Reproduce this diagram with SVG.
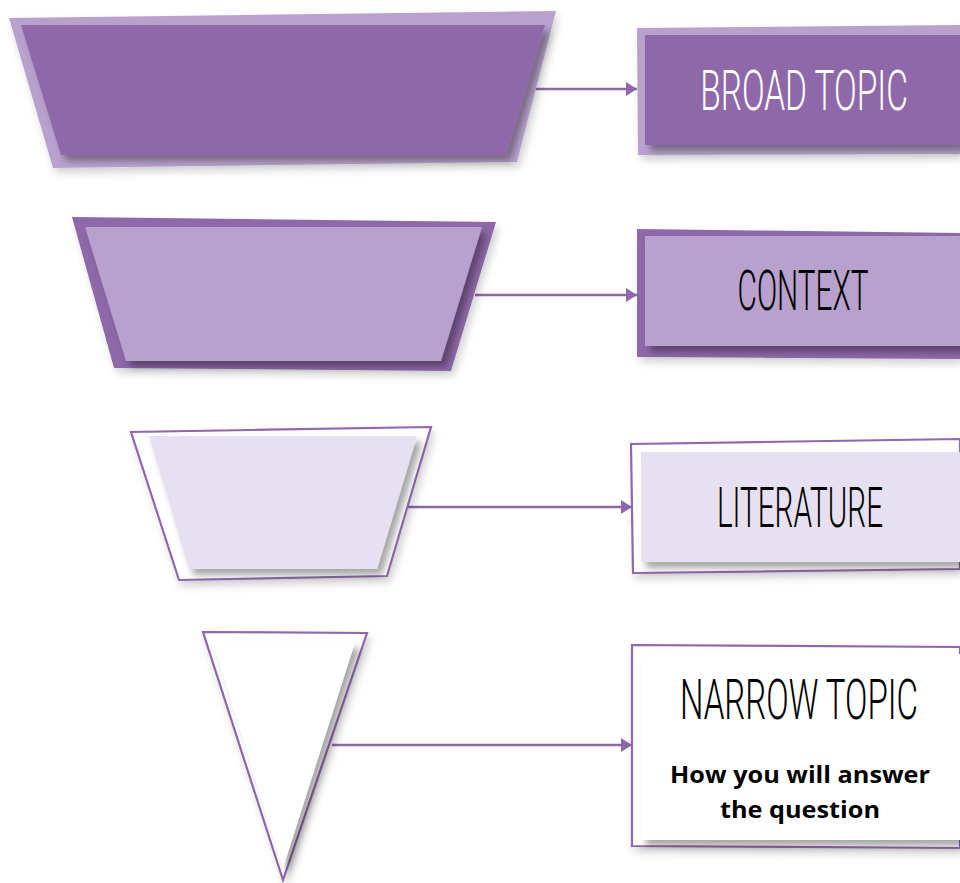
<svg xmlns="http://www.w3.org/2000/svg" width="960" height="883" viewBox="0 0 960 883">
<defs>
  <filter id="outerShadow" x="-10%" y="-10%" width="130%" height="140%">
    <feDropShadow dx="3" dy="5" stdDeviation="4" flood-color="#000" flood-opacity="0.18"/>
  </filter>
  <filter id="innerShadow" x="-10%" y="-10%" width="130%" height="140%">
    <feDropShadow dx="5" dy="6" stdDeviation="3.5" flood-color="#000" flood-opacity="0.35"/>
  </filter>
  <marker id="arrow" markerUnits="userSpaceOnUse" markerWidth="12" markerHeight="16" refX="11" refY="8" orient="auto">
    <path d="M0,1 L11,8 L0,15 z" fill="#8e67a8"/>
  </marker>
  <style>
    .dark{fill:#8e67a8}
    .light{fill:#b8a2cd}
    .pale{fill:#e6e0f0}
    .outline{fill:#ffffff;stroke:#8e67a8;stroke-width:2.2}
    .conn{stroke:#8e67a8;stroke-width:2.5;fill:none;marker-end:url(#arrow)}
    .hand{font-family:Roboto,'DejaVu Sans',sans-serif;font-weight:300;font-size:56px;text-anchor:middle}
    .body{font-family:'Open Sans','Noto Sans','Liberation Sans',sans-serif;font-weight:700;font-size:23px;fill:#000;text-anchor:middle}
  </style>
</defs>

<g id="connectors">
  <line class="conn" x1="535" y1="89" x2="637" y2="89"/>
  <line class="conn" x1="475" y1="295" x2="637" y2="295"/>
  <line class="conn" x1="408" y1="507" x2="632" y2="507"/>
  <line class="conn" x1="332" y1="745" x2="632" y2="745"/>
</g>

<g id="funnel-1">
  <polygon class="light" points="9,18 556,11 517,162 53,168" filter="url(#outerShadow)"/>
  <polygon class="dark" points="21,25 545,25 506,155 61,155" filter="url(#innerShadow)"/>
</g>

<g id="funnel-2">
  <polygon class="dark" points="72,217 496,222 451,371 114,368" filter="url(#outerShadow)"/>
  <polygon class="light" points="85,227 482,227 441,361 126,361" filter="url(#innerShadow)"/>
</g>

<g id="funnel-3">
  <polygon class="outline" points="131,432 431,427 387,576 179,580" filter="url(#outerShadow)"/>
  <polygon class="pale" points="149,436 417,436 377,569 189,569" filter="url(#innerShadow)"/>
</g>

<g id="funnel-4">
  <polygon class="outline" points="203,632 367,633 283,880" filter="url(#outerShadow)"/>
  <polygon fill="#ffffff" points="213,642 355,642 283,868" filter="url(#innerShadow)"/>
</g>

<g id="box-broad-topic">
  <polygon class="light" points="637,28 960,25 960,154 638,155" filter="url(#outerShadow)"/>
  <rect class="dark" x="645" y="35" width="315" height="110" filter="url(#innerShadow)"/>
  <text class="hand" transform="scale(0.62,1)" x="1296.8" y="110" fill="#ffffff" textLength="335" lengthAdjust="spacingAndGlyphs">BROAD TOPIC</text>
</g>

<g id="box-context">
  <polygon class="dark" points="637,229 960,233 960,359 637,357" filter="url(#outerShadow)"/>
  <rect class="light" x="645" y="236" width="315" height="110" filter="url(#innerShadow)"/>
  <text class="hand" transform="scale(0.62,1)" x="1295.2" y="310" fill="#000000" font-size="53" textLength="211" lengthAdjust="spacingAndGlyphs">CONTEXT</text>
</g>

<g id="box-literature">
  <polygon class="outline" points="631,444 960,439 960,569 633,573" filter="url(#outerShadow)"/>
  <rect class="pale" x="641" y="452" width="319" height="110" filter="url(#innerShadow)"/>
  <text class="hand" transform="scale(0.62,1)" x="1290.3" y="527" fill="#000000" textLength="268" lengthAdjust="spacingAndGlyphs">LITERATURE</text>
</g>

<g id="box-narrow-topic">
  <polygon class="outline" points="632,645 960,647 960,848 632,846" filter="url(#outerShadow)"/>
  <rect fill="#ffffff" x="641" y="654" width="319" height="186" filter="url(#innerShadow)"/>
  <text class="hand" transform="scale(0.62,1)" x="1288.7" y="719" fill="#000000" textLength="384" lengthAdjust="spacingAndGlyphs">NARROW TOPIC</text>
  <text class="body" x="800" y="783" textLength="260" lengthAdjust="spacingAndGlyphs">How you will answer</text>
  <text class="body" x="800" y="818" textLength="160" lengthAdjust="spacingAndGlyphs">the question</text>
</g>
</svg>
